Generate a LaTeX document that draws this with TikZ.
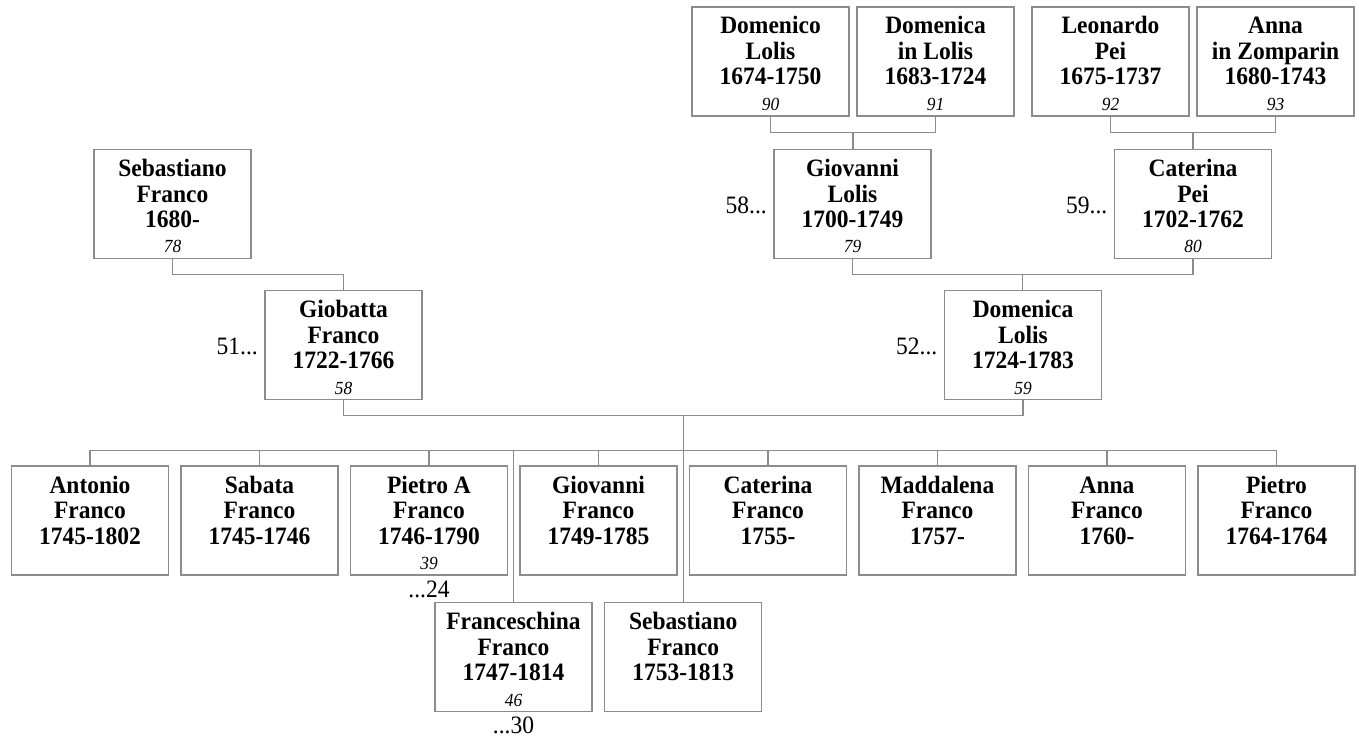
\documentclass[tikz,border=0pt]{standalone}
\usepackage{fontspec}
\setmainfont{Liberation Serif}[FakeStretch=0.94]
\usetikzlibrary{calc}
\definecolor{linegray}{RGB}{140,140,140}
\newcommand{\pcard}[4]{\parbox[c][109pt][t]{157pt}{\centering\fontsize{25}{25.5}\selectfont\bfseries\rule{0pt}{27pt}#1\\#2\\#3\\{\fontsize{18.5}{25.5}\selectfont\mdseries\itshape #4}}}
\newcommand{\pcardt}[3]{\parbox[c][109pt][t]{157pt}{\centering\fontsize{25}{25.5}\selectfont\bfseries\rule{0pt}{27pt}#1\\#2\\#3}}
\tikzset{
  person/.style={draw=linegray, line width=1.3pt, inner sep=0pt, outer sep=0pt, anchor=north west},
  link/.style={draw=linegray, line width=1.3pt},
  sidelab/.style={inner sep=0pt, font=\fontsize{25}{26}\selectfont}
}
\begin{document}
\begin{tikzpicture}[x=1pt,y=-1pt]
\useasboundingbox (0,0) rectangle (1359,738);
% top row
\node[person] (dom)  at (692,7)  {\pcard{Domenico}{Lolis}{1674-1750}{90}};
\node[person] (domi) at (857,7)  {\pcard{Domenica}{in Lolis}{1683-1724}{91}};
\node[person] (leo)  at (1032,7) {\pcard{Leonardo}{Pei}{1675-1737}{92}};
\node[person] (ann)  at (1197,7) {\pcard{Anna}{in Zomparin}{1680-1743}{93}};
% second row
\node[person] (seb)  at (94,149.5)   {\pcard{Sebastiano}{Franco}{1680-}{78}};
\node[person] (gio)  at (774,149.5)  {\pcard{Giovanni}{Lolis}{1700-1749}{79}};
\node[person] (cat)  at (1114.5,149.5) {\pcard{Caterina}{Pei}{1702-1762}{80}};
% third row
\node[person] (gb)   at (265,290.5)  {\pcard{Giobatta}{Franco}{1722-1766}{58}};
\node[person] (dl)   at (944.5,290.5) {\pcard{Domenica}{Lolis}{1724-1783}{59}};
% children
\node[person] (c1) at (11.5,466)   {\pcardt{Antonio}{Franco}{1745-1802}};
\node[person] (c2) at (181,466)    {\pcardt{Sabata}{Franco}{1745-1746}};
\node[person] (c3) at (350.5,466)  {\pcard{Pietro A}{Franco}{1746-1790}{39}};
\node[person] (c4) at (520,466)    {\pcardt{Giovanni}{Franco}{1749-1785}};
\node[person] (c5) at (689.5,466)  {\pcardt{Caterina}{Franco}{1755-}};
\node[person] (c6) at (859,466)    {\pcardt{Maddalena}{Franco}{1757-}};
\node[person] (c7) at (1028.5,466) {\pcardt{Anna}{Franco}{1760-}};
\node[person] (c8) at (1198,466)   {\pcardt{Pietro}{Franco}{1764-1764}};
\node[person] (fr) at (435,602.5)  {\pcard{Franceschina}{Franco}{1747-1814}{46}};
\node[person] (sb) at (604.75,602.5) {\pcardt{Sebastiano}{Franco}{1753-1813}};
% side labels
\node[sidelab, anchor=east] (l58) at ([xshift=-7pt,yshift=-1.5pt]gio.west) {58...};
\node[sidelab, anchor=east] (l59) at ([xshift=-7pt,yshift=-1.5pt]cat.west) {59...};
\node[sidelab, anchor=east] (l51) at ([xshift=-7pt,yshift=-1.5pt]gb.west) {51...};
\node[sidelab, anchor=east] (l52) at ([xshift=-7pt,yshift=-1.5pt]dl.west) {52...};
\node[sidelab, anchor=north] (l24) at ([yshift=-5.5pt]c3.south) {...24};
\node[sidelab, anchor=north] (l30) at ([yshift=-5.5pt]fr.south) {...30};
% connectors
\coordinate (j1) at ($(dom.south)!0.5!(domi.south)+(0,16.5)$);
\draw[link] (dom.south) |- (j1) -| (domi.south);
\draw[link] (j1) -- (j1 |- gio.north);
\coordinate (j2) at ($(leo.south)!0.5!(ann.south)+(0,16.5)$);
\draw[link] (leo.south) |- (j2) -| (ann.south);
\draw[link] (j2) -- (j2 |- cat.north);
\draw[link] (seb.south) -- ++(0,16) -| (gb.north);
\coordinate (j3) at ($(gio.south)!0.5!(cat.south)+(0,16)$);
\draw[link] (gio.south) |- (j3) -| (cat.south);
\draw[link] (j3) -- (j3 |- dl.north);
\coordinate (j4) at ($(gb.south)!0.5!(dl.south)+(0,16)$);
\draw[link] (gb.south) |- (j4) -| (dl.south);
\coordinate (sib) at ($(j4)+(0,35)$);
\draw[link] (c1.north) |- (sib) -| (c8.north);
\foreach \c in {c2,c3,c4,c5,c6,c7}{\draw[link] (\c.north) -- (\c.north |- sib);}
\draw[link] (fr.north) -- (fr.north |- sib);
\draw[link] (j4) -- (j4 |- sb.north);
\end{tikzpicture}
\end{document}
